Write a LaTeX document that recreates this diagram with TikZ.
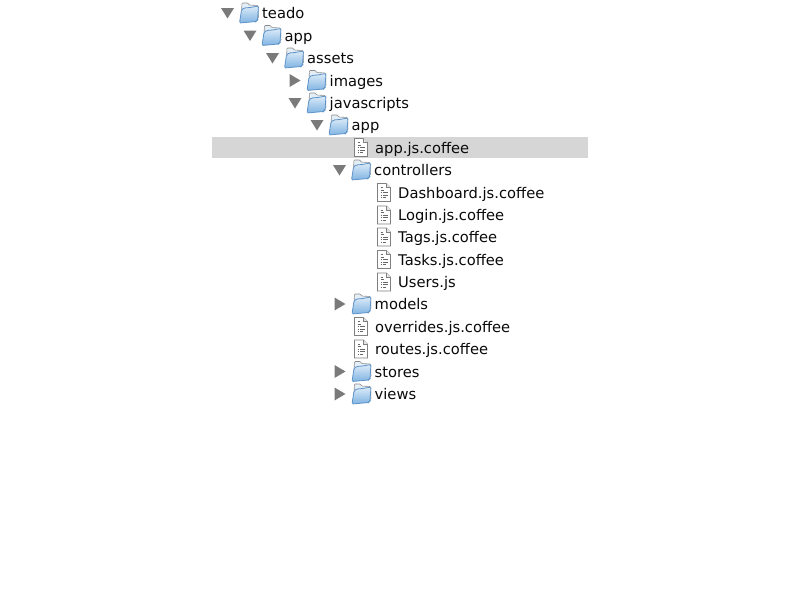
\documentclass[tikz,border=0pt]{standalone}
\usepackage{fontspec}
\setmainfont{DejaVu Sans}
\definecolor{hl}{HTML}{D6D6D6}
\definecolor{tri}{HTML}{7A7A7A}
\definecolor{fedge}{HTML}{5E93C8}
\definecolor{ftop}{HTML}{DCEBF8}
\definecolor{fbot}{HTML}{7FB3E2}
\definecolor{fback}{HTML}{E4EEF7}
\definecolor{ftxt}{HTML}{0A0A0A}
\tikzset{
  x=1pt,y=-1pt,
  label text/.style={anchor=base west,inner sep=0pt,font=\fontsize{14.7}{16}\selectfont,text=ftxt},
  tree triangle/.style={fill=tri,draw=none},
  pics/openarrow/.style={code={\fill[tree triangle] (-6.5,-5) -- (6.5,-5) -- (0,5.5) -- cycle;}},
  pics/closedarrow/.style={code={\fill[tree triangle] (-5.5,-6.5) -- (5.5,0) -- (-5.5,6.5) -- cycle;}},
  pics/foldericon/.style={code={
    \draw[fill=fback,draw=black!45,line width=.6pt,rounded corners=.8] (-8,8) -- (-7,-10) -- (-1,-10) -- (0,-8) -- (9,-7.5) -- (9.5,5) -- cycle;
    \draw[top color=ftop,bottom color=fbot,draw=fedge,line width=.8pt,rounded corners=1.2] (-9.5,10) -- (-7.5,-3) -- (-5,-5) -- (1,-5.5) -- (9.5,-7) -- (8.5,7) -- (7,8.5) -- cycle;
  }},
  pics/fileicon/.style={code={
    \draw[fill=white,draw=black!50,line width=.6pt] (-6.5,-9) -- (2.5,-9) -- (6.5,-5) -- (6.5,9) -- (-6.5,9) -- cycle;
    \draw[fill=black!10,draw=black!50,line width=.5pt] (2.5,-9) -- (2.5,-5) -- (6.5,-5);
    \draw[black!60,line width=.7pt]
      (-3.5,-5) -- (-1.5,-5) (-3.5,-2.5) -- (0,-2.5) (-3.5,0) -- (-2,0) (-1,0) -- (3.5,0)
      (-3.5,2.5) -- (-2,2.5) (-1,2.5) -- (3.5,2.5) (-3.5,5) -- (-2,5) (-1,5) -- (2,5);
  }},
}
% \folderrow{name}{arrow pic}{arrow x}{row y}{text}
\newcommand{\folderrow}[5]{
  \pic at (#3,#4) {#2};
  \pic at (#3+21.5,#4) {foldericon};
  \node[label text] (#1) at (#3+34.5,#4+5.5) {#5};
}
% \filerow{name}{icon x}{row y}{text}
\newcommand{\filerow}[4]{
  \pic at (#2,#3) {fileicon};
  \node[label text] (#1) at (#2+14,#3+5.5) {#4};
}
\begin{document}
\begin{tikzpicture}
\useasboundingbox (0,0) rectangle (800,600);
\fill[white] (0,0) rectangle (800,600);
\fill[hl] (212,137) rectangle (588,158);
\folderrow{teado}{openarrow}{227.5}{13}{teado}
\folderrow{appa}{openarrow}{250}{35.5}{app}
\folderrow{assets}{openarrow}{272.5}{58}{assets}
\folderrow{images}{closedarrow}{295}{80.5}{images}
\folderrow{js}{openarrow}{295}{103}{javascripts}
\folderrow{appb}{openarrow}{317}{125}{app}
\filerow{appjs}{361}{147.5}{app.js.coffee}
\folderrow{controllers}{openarrow}{339.5}{170}{controllers}
\filerow{dash}{384}{192.5}{Dashboard.js.coffee}
\filerow{login}{384}{215}{Login.js.coffee}
\filerow{tags}{384}{237}{Tags.js.coffee}
\filerow{tasks}{384}{259.5}{Tasks.js.coffee}
\filerow{users}{384}{282}{Users.js}
\folderrow{models}{closedarrow}{340}{304}{models}
\filerow{over}{361}{326.5}{overrides.js.coffee}
\filerow{routes}{361}{349}{routes.js.coffee}
\folderrow{stores}{closedarrow}{340}{371.5}{stores}
\folderrow{views}{closedarrow}{340}{394}{views}
\end{tikzpicture}
\end{document}
